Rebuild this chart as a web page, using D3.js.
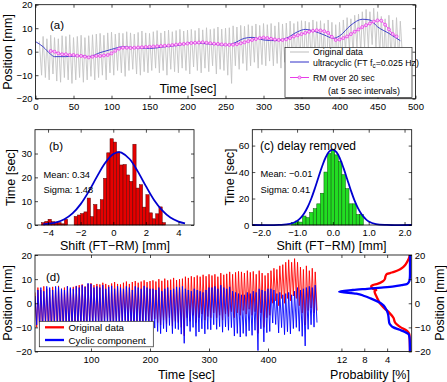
<!DOCTYPE html>
<html>
<head>
<meta charset="utf-8">
<script src="https://cdn.jsdelivr.net/npm/d3@7"></script>
<style>
  body { margin: 0; background: #fff; }
  svg { font-family: "Liberation Sans", Arial, Helvetica, sans-serif; }
  .tick text { font-size: 9.5px; fill: #000; }
  .tick line { stroke: #000; stroke-width: 0.7; }
</style>
</head>
<body>
<svg id="fig" width="447" height="382"></svg>
<script>
// ************************************
// Data
// ************************************

// breathing cycles: one peak / trough per cycle, first cycle at 5 s, every 5 s
const cycleStart = 5;
const cyclePeriod = 5;
const origPeaks = [
  4.5, 6.5, 5.5, 7, 6, 5.5, 6.8, 6.5, 7.2, 6,
  6.5, 7, 6, 6.8, 7.2, 7.5, 7.8, 7, 8, 8.3,
  7.5, 8, 7.8, 8.5, 8, 7.5, 8.2, 8.8, 8, 7.8,
  8.5, 9, 8, 8.8, 9.2, 8.5, 9, 9.5, 8.8, 9.2,
  9.5, 9, 10, 9.3, 10.2, 9.5, 9.8, 10.5, 9.6, 10,
  10.2, 11, 10.5, 11.2, 10.8, 11.5, 11, 11.8, 11.2, 12,
  11.5, 12, 11, 12.5, 11.8, 12.2, 13, 12, 12.8, 13.2,
  13, 12.5, 13.5, 12.8, 13.2, 12, 13.5, 12.5, 11.5, 12.5,
  13.5, 14.5, 14, 15.5, 16, 17, 18, 17, 18.5, 17,
  15, 14, 15.5, 13.5, 14.5, 13
];
const origTroughs = [
  -10, -11, -12, -9.5, -12.5, -13, -11, -12, -13.5, -12,
  -11, -13, -12, -10.5, -12, -11, -10, -12, -9, -10,
  -8, -9, -10.5, -8, -7.5, -9.5, -10, -8.5, -9, -8,
  -7, -9, -8, -10, -7.5, -8.5, -9, -7, -8, -9.5,
  -6.5, -8, -9, -7, -8.5, -6, -9.5, -7.5, -8, -10,
  -13.5, -6, -7.5, -5, -8, -6, -4.5, -7, -5.5, -6,
  -4, -6, -5, -7, -4.5, -5.5, -3.5, -6, -4, -5,
  -3, -4.5, -2.5, -5, -3.5, -12.5, -4, -10, -6, -5,
  0, 1, -1, 2, 0, 2, 1, 3, 2, -1,
  -4, -9, -3, -2, -4, -3
];
const cyclicPeaks = [
  3, 5.5, 6.5, 5, 7, 6.5, 5.5, 7, 6.8, 6,
  5.5, 7, 6.5, 6, 7, 6.5, 7.5, 6.8, 8.3, 8,
  6.5, 7, 6.5, 7.5, 6, 6.8, 7.2, 6, 7, 6.5,
  6, 7, 6.5, 5.5, 7, 6.5, 6, 7.2, 6.5, 6,
  6, 5.5, 6.5, 5, 6, 6.5, 5.5, 6, 6.8, 6.5,
  7, 6, 5.5, 5, 6, 5.5, 5, 4.5, 5.5, 6.5,
  6.5, 7, 6, 7.5, 6.5, 6, 6.8, 5, 4.5, 4,
  3.5, 3.5, 4.5, 4, 5, 4.5, 6, 5.5, 5, 6,
  6, 5.5, 4, 4.5, 3.5, 4, 4.5, 3.5, 5, 6.5,
  5.5, 6, 6.5, 7, 6.5, 7.5
];
const cyclicTroughs = [
  -9, -10, -11, -8.5, -10, -10.5, -9, -9.5, -11, -10,
  -9.2, -11.3, -10.1, -8.4, -10.5, -10, -9.6, -12.1, -9.5, -11,
  -9.4, -10.7, -12.6, -10, -9.3, -11.2, -11.6, -10, -10.5, -9.4,
  -8.6, -10.8, -9.9, -12.1, -9.8, -10.9, -11.6, -9.8, -11.1, -13,
  -10.3, -11.7, -12.6, -10.5, -11.9, -9.2, -12.6, -10.5, -10.9, -12.8,
  -16.6, -9.5, -11.7, -10, -13.7, -11.9, -10.6, -12.7, -10.8, -11,
  -8.9, -10.8, -9.7, -12, -9.8, -11.2, -10.1, -13.6, -12.5, -14,
  -12.5, -13.7, -11.4, -13.3, -11.2, -19.6, -10.6, -16, -12.2, -11.7,
  -8.2, -8.8, -12.3, -10.1, -13, -11.8, -12.7, -10.5, -10, -11.6,
  -13.7, -17.7, -10.8, -8.9, -9.9, -8
];

// ultracyclic component (FT low-pass)
const ultraTimes = [0, 10, 20, 25, 40, 60, 70, 85, 100, 115, 130, 150, 170, 190, 205, 220, 235, 250,
  260, 275, 285, 300, 315, 330, 345, 355, 365, 380, 392, 400, 415, 430, 440, 450, 465, 480];
const ultraValues = [4.3, 2.1, -1.1, -2.1, -2.1, -1.7, -2.1, -0.4, 1, 2.1, 1.7, 1.4, 2.1, 2.8, 3.8, 3.5, 3.1, 2.8,
  3.5, 5.7, 6.1, 5.0, 4.7, 5.7, 8.5, 9.5, 8.9, 7.1, 5.7, 6.7, 11.3, 13.8, 13.5, 10.6, 7.8, 4.7];

// running mean over 20 s, every 5 s from 20 s
const rmStart = 20;
const rmStep = 5;
const rmValues = [
  0.3, 0, -0.7, -1.1, -1.1, -1.4, -1.4, -1.7, -1.8, -2.1,
  -2.4, -2.1, -1.8, -1.8, -1.6, -1.4, -0.7, 0.4, 1.3, 1.7,
  1.7, 1.6, 1.7, 1.8, 1.9, 2.0, 2.1, 2.2, 2.3, 2.4,
  2.5, 2.6, 2.8, 3.0, 3.2, 3.3, 3.5, 3.7, 3.8, 3.9,
  4.0, 3.8, 3.6, 3.4, 3.3, 3.1, 3.0, 2.9, 3.0, 3.2,
  3.6, 4.0, 4.5, 5.0, 5.4, 5.8, 6.0, 5.8, 5.5, 5.2,
  5.0, 5.0, 5.3, 5.8, 6.5, 7.0, 7.5, 8.0, 8.5, 8.9,
  9.1, 9.0, 8.7, 8.0, 6.3, 5.0, 5.2, 5.8, 6.5, 7.5,
  8.5, 9.5, 10.5, 11.3, 12.0, 12.8, 13.3, 13.2, 11.5, 9.5,
  7.5, 6.5
];

// (b) histogram of shift FT-RM, bins of 0.2 mm
const shiftBinsB = [-4.3, -4.1, -3.9, -3.7, -3.5, -3.3, -3.1, -2.9, -2.7, -2.5, -2.3, -2.1, -1.9, -1.7, -1.5,
  -1.3, -1.1, -0.9, -0.7, -0.5, -0.3, -0.1, 0.1, 0.3, 0.5, 0.7, 0.9, 1.1, 1.3, 1.5, 1.7, 1.9, 2.1,
  2.3, 2.5, 2.7, 2.9, 3.1];
const timeB = [1.0, 1.5, 2.4, 1.4, 1.2, 1.0, 0.5, 2.4, 0, 0, 3.6, 4.2, 4.8, 5.5, 11.3,
  3.5, 8.6, 6.5, 10.6, 19.6, 30.3, 36.2, 34.8, 30.7, 25.2, 25.4, 21, 18.3, 33.9, 15.5, 16.9, 7.5, 12.7,
  5.1, 2.6, 4.7, 7.6, 1.0];
const fitXB = [-4.3, -3.5, -3, -2.5, -2, -1.5, -1, -0.5, 0, 0.34, 0.5, 1, 1.5, 2, 2.5, 3, 3.5, 4, 4.4];
const fitYB = [0.22, 1.06, 2.4, 4.86, 8.77, 14.1, 20.3, 26.0, 29.8, 30.6, 30.4, 27.7, 22.5, 16.3, 10.5, 6.1, 3.1, 1.44, 0.71];

// (c) histogram after delay removal, bins of 0.1 mm
const shiftBinsC = [-1.1, -1.0, -0.9, -0.8, -0.7, -0.6, -0.5, -0.4, -0.3, -0.2, -0.1, 0, 0.1, 0.2, 0.3, 0.4,
  0.5, 0.6, 0.7, 0.8];
const timeC = [1.8, 3, 2.2, 6.8, 5.6, 9.5, 12.3, 16, 24, 40, 54, 57, 53, 48, 38, 27.5, 16, 16, 8, 8];
const fitXC = [-2.25, -1.5, -1.2, -1.0, -0.9, -0.8, -0.7, -0.6, -0.5, -0.4, -0.3, -0.2, -0.1, 0, 0.1, 0.2,
  0.3, 0.4, 0.5, 0.6, 0.7, 0.8, 0.9, 1.0, 1.2, 1.5, 2.2];
const fitYC = [0, 0.08, 0.84, 3.1, 5.4, 8.9, 13.8, 20.2, 27.9, 36.3, 44.4, 51.2, 55.6, 57, 55, 50,
  42.8, 34.6, 26.3, 18.8, 12.7, 8.1, 4.9, 2.7, 0.74, 0.06, 0];

// (d) position probability distributions
const probPosOrig = [-20, -15, -13, -12, -11, -10, -9, -8, -6, -4, -2, 0, 1, 2, 3, 4, 5, 5.5, 6, 7, 7.5,
  8, 9, 10, 11, 12, 12.5, 13, 14, 15, 16, 18, 20];
const probOrig = [0, 0.05, 0.1, 0.3, 0.8, 1.6, 2.2, 2.6, 2.9, 3.6, 4.5, 5.3, 5.5, 5.7, 5.9, 6.1, 6.2, 5.9, 6.5,
  6.8, 6.5, 5.7, 4.8, 4.4, 4.3, 4.1, 3.5, 2.8, 1.8, 1.2, 0.8, 0.3, 0];
const probPosCyc = [-20, -15, -13, -12, -11, -10, -9, -8.3, -7, -5, -4, -2, -1, 0, 1, 2, 3, 4, 4.8, 5.5, 6,
  6.5, 7, 7.5, 8, 9, 10, 12, 20];
const probCyc = [0, 0.05, 0.2, 0.8, 1.8, 2.9, 3.4, 3.6, 3.7, 3.8, 3.9, 4.3, 4.6, 5.1, 5.9, 6.9, 8.0, 9.4, 12.4,
  10, 7.5, 5, 2.8, 1.5, 0.5, 0.15, 0.05, 0, 0];

// tick labels
const timeTicksA = [0, 50, 100, 150, 200, 250, 300, 350, 400, 450, 500];
const posTicks = [-20, -10, 0, 10, 20];
const shiftTicksB = [-4, -2, 0, 2, 4];
const timeTicksB = [0, 10, 20, 30];
const shiftTicksC = [-2, -1, 0, 1, 2];
const timeTicksC = [0, 20, 40, 60];
const timeTicksD = [100, 200, 300, 400];
const probTicks = [12, 8, 4];

// ************************************
// helpers
// ************************************
const svg = d3.select("#fig");
const defs = svg.append("defs");

function clip(id, x0, y0, x1, y1) {
  defs.append("clipPath").attr("id", id)
    .append("rect").attr("x", x0).attr("y", y0).attr("width", x1 - x0).attr("height", y1 - y0);
  return "url(#" + id + ")";
}

function frame(x0, y0, x1, y1) {
  svg.append("rect")
    .attr("x", x0).attr("y", y0).attr("width", x1 - x0).attr("height", y1 - y0)
    .attr("fill", "none").attr("stroke", "#000").attr("stroke-width", 0.8);
}

// MATLAB style box: inward ticks on all four sides
function boxAxes(x, y, xt, yt) {
  const [x0, x1] = x.range();
  const [y0, y1] = y.range();
  svg.append("g").attr("transform", `translate(0,${y0})`)
    .call(d3.axisBottom(x).tickValues(xt).tickSize(-3).tickPadding(4.5));
  svg.append("g").attr("transform", `translate(0,${y1})`)
    .call(d3.axisTop(x).tickValues(xt).tickSize(-3).tickFormat(""));
  svg.append("g").attr("transform", `translate(${x0},0)`)
    .call(d3.axisLeft(y).tickValues(yt).tickSize(-3).tickPadding(3));
  svg.append("g").attr("transform", `translate(${x1},0)`)
    .call(d3.axisRight(y).tickValues(yt).tickSize(-3).tickFormat(""));
  svg.selectAll(".domain").remove();
  frame(x0, y1, x1, y0);
}

function label(txt, x, y, size, anchor, rotate) {
  const t = svg.append("text")
    .attr("font-size", size)
    .attr("text-anchor", anchor || "start")
    .text(txt);
  if (rotate) t.attr("transform", `translate(${x},${y}) rotate(${rotate})`);
  else t.attr("x", x).attr("y", y);
  return t;
}

function cyclePoints(peaks, troughs) {
  const pts = [];
  peaks.forEach((p, i) => {
    const t = cycleStart + i * cyclePeriod;
    pts.push([t, p]);
    pts.push([t + 3, troughs[i]]);
  });
  return pts;
}

// ************************************
// (a) position vs time
// ************************************
const xA = d3.scaleLinear().domain([0, 500]).range([35.5, 415.5]);
const yA = d3.scaleLinear().domain([-20, 20]).range([98.7, 4.7]);
const clipA = clip("clipA", 35.5, 4.7, 415.5, 98.7);

const lineA = d3.line().x(d => xA(d[0])).y(d => yA(d[1]));

svg.append("path")
  .attr("clip-path", clipA)
  .attr("d", lineA(cyclePoints(origPeaks, origTroughs)))
  .attr("fill", "none").attr("stroke", "#c4c4c4").attr("stroke-width", 0.9);

svg.append("path")
  .attr("clip-path", clipA)
  .attr("d", d3.line().curve(d3.curveMonotoneX).x(d => xA(d[0])).y(d => yA(d[1]))(ultraTimes.map((t, i) => [t, ultraValues[i]])))
  .attr("fill", "none").attr("stroke", "#3030c8").attr("stroke-width", 0.9);

const rmData = rmValues.map((v, i) => [rmStart + i * rmStep, v]);
svg.append("path")
  .attr("d", lineA(rmData))
  .attr("fill", "none").attr("stroke", "#e83ce8").attr("stroke-width", 0.9);
svg.append("g").selectAll("circle").data(rmData).enter().append("circle")
  .attr("cx", d => xA(d[0])).attr("cy", d => yA(d[1])).attr("r", 1.5)
  .attr("fill", "#f6c6f6").attr("stroke", "#e83ce8").attr("stroke-width", 0.8);

boxAxes(xA, yA, timeTicksA, posTicks);
label("(a)", 50, 29, 11.5);
label("Time [sec]", 188, 92.5, 12.5, "middle");
label("Position [mm]", 12, 52, 12.5, "middle", -90);

// legend (a)
const legA = svg.append("g");
legA.append("rect").attr("x", 285).attr("y", 47.5).attr("width", 127).attr("height", 50)
  .attr("fill", "#fff").attr("stroke", "#222").attr("stroke-width", 0.7);
legA.append("line").attr("x1", 290).attr("x2", 309).attr("y1", 52).attr("y2", 52)
  .attr("stroke", "#bdbdbd").attr("stroke-width", 1);
legA.append("text").attr("x", 313).attr("y", 55.3).attr("font-size", 8.8).text("Original data");
legA.append("line").attr("x1", 290).attr("x2", 309).attr("y1", 62).attr("y2", 62)
  .attr("stroke", "#3030c8").attr("stroke-width", 1);
const ultraText = legA.append("text").attr("x", 313).attr("y", 65.5).attr("font-size", 8.8);
ultraText.append("tspan").text("ultracyclic (FT f");
ultraText.append("tspan").attr("font-size", 6.3).attr("dy", 2).text("c");
ultraText.append("tspan").attr("dy", -2).text("=0.025 Hz)");
legA.append("line").attr("x1", 290).attr("x2", 309).attr("y1", 77.5).attr("y2", 77.5)
  .attr("stroke", "#e83ce8").attr("stroke-width", 1);
legA.append("circle").attr("cx", 299.5).attr("cy", 77.5).attr("r", 1.5)
  .attr("fill", "#f6c6f6").attr("stroke", "#e83ce8").attr("stroke-width", 0.8);
legA.append("text").attr("x", 313).attr("y", 81).attr("font-size", 8.8).text("RM over 20 sec");
legA.append("text").attr("x", 328).attr("y", 93.5).attr("font-size", 8.8).text("(at 5 sec intervals)");

// ************************************
// (b) histogram FT-RM
// ************************************
const xB = d3.scaleLinear().domain([-4.8, 4.95]).range([35, 194]);
const yB = d3.scaleLinear().domain([0, 40]).range([225, 129.7]);

svg.append("g").selectAll("rect").data(shiftBinsB).enter().append("rect")
  .attr("x", d => xB(d - 0.1)).attr("width", d => xB(d + 0.1) - xB(d - 0.1))
  .attr("y", (d, i) => yB(timeB[i])).attr("height", (d, i) => yB(0) - yB(timeB[i]))
  .attr("fill", "#e60000").attr("stroke", "#5a0000").attr("stroke-width", 0.5);

svg.append("path")
  .attr("d", d3.line().curve(d3.curveCatmullRom).x(d => xB(d[0])).y(d => yB(d[1]))(fitXB.map((v, i) => [v, fitYB[i]])))
  .attr("fill", "none").attr("stroke", "#0000d0").attr("stroke-width", 1.8);

boxAxes(xB, yB, shiftTicksB, timeTicksB);
label("(b)", 49, 149.5, 11.5);
label("Mean:  0.34", 43.5, 177.5, 9.3);
label("Sigma: 1.48", 43.5, 192.5, 9.3);
label("Shift (FT\u2212RM) [mm]", 115, 249.5, 12.5, "middle");
label("Time [sec]", 14.5, 177.5, 12.5, "middle", -90);

// ************************************
// (c) histogram after delay removal
// ************************************
const xC = d3.scaleLinear().domain([-2.25, 2.2]).range([252.3, 411.7]);
const yC = d3.scaleLinear().domain([0, 72]).range([225, 129.7]);

svg.append("g").selectAll("rect").data(shiftBinsC).enter().append("rect")
  .attr("x", d => xC(d - 0.05)).attr("width", d => xC(d + 0.05) - xC(d - 0.05))
  .attr("y", (d, i) => yC(timeC[i])).attr("height", (d, i) => yC(0) - yC(timeC[i]))
  .attr("fill", "#22dd22").attr("stroke", "#0a5a0a").attr("stroke-width", 0.5);

svg.append("path")
  .attr("d", d3.line().curve(d3.curveCatmullRom).x(d => xC(d[0])).y(d => yC(d[1]))(fitXC.map((v, i) => [v, fitYC[i]])))
  .attr("fill", "none").attr("stroke", "#0000d0").attr("stroke-width", 1.8);

boxAxes(xC, yC, shiftTicksC, timeTicksC);
label("(c)  delay removed", 260, 149.5, 12);
label("Mean:  \u22120.01", 260.5, 177, 9.3);
label("Sigma: 0.41", 260.5, 192.5, 9.3);
label("Shift (FT\u2212RM) [mm]", 331.5, 249.5, 12.5, "middle");
label("Time [sec]", 233.5, 177, 12.5, "middle", -90);

// ************************************
// (d) original vs cyclic component, with distributions
// ************************************
const xD = d3.scaleLinear().domain([5.1, 491.5]).range([35, 322]);
const yD = d3.scaleLinear().domain([-20, 20]).range([351.5, 255]);
const xP = d3.scaleLinear().domain([15.4, -0.3]).range([322, 411.7]);
const clipD = clip("clipD", 35, 255, 322, 351.5);
const clipP = clip("clipP", 322, 255, 411.7, 351.5);

const lineD = d3.line().x(d => xD(d[0])).y(d => yD(d[1]));
svg.append("path")
  .attr("clip-path", clipD)
  .attr("d", lineD(cyclePoints(origPeaks, origTroughs)))
  .attr("fill", "none").attr("stroke", "#ff0000").attr("stroke-width", 0.9);
svg.append("path")
  .attr("clip-path", clipD)
  .attr("d", lineD(cyclePoints(cyclicPeaks, cyclicTroughs)))
  .attr("fill", "none").attr("stroke", "#0000ff").attr("stroke-width", 0.9);

const lineP = d3.line().curve(d3.curveMonotoneY).x(d => xP(d[1])).y(d => yD(d[0]));
svg.append("path")
  .attr("clip-path", clipP)
  .attr("d", lineP(probPosOrig.map((p, i) => [p, probOrig[i]])))
  .attr("fill", "none").attr("stroke", "#ff0000").attr("stroke-width", 2.3);
svg.append("path")
  .attr("clip-path", clipP)
  .attr("d", lineP(probPosCyc.map((p, i) => [p, probCyc[i]])))
  .attr("fill", "none").attr("stroke", "#0000ff").attr("stroke-width", 2.3);

// axes of (d)
svg.append("g").attr("transform", "translate(0,351.5)")
  .call(d3.axisBottom(xD).tickValues(timeTicksD).tickSize(-3).tickPadding(4.5));
svg.append("g").attr("transform", "translate(0,255)")
  .call(d3.axisTop(xD).tickValues(timeTicksD).tickSize(-3).tickFormat(""));
svg.append("g").attr("transform", "translate(0,351.5)")
  .call(d3.axisBottom(xP).tickValues(probTicks).tickSize(-3).tickPadding(4.5));
svg.append("g").attr("transform", "translate(0,255)")
  .call(d3.axisTop(xP).tickValues(probTicks).tickSize(-3).tickFormat(""));
svg.append("g").attr("transform", "translate(35,0)")
  .call(d3.axisLeft(yD).tickValues(posTicks).tickSize(-3).tickPadding(3));
svg.append("g").attr("transform", "translate(411.7,0)")
  .call(d3.axisRight(yD).tickValues(posTicks).tickSize(-3).tickPadding(3));
svg.selectAll(".domain").remove();
frame(35, 255, 411.7, 351.5);

label("(d)", 46, 281, 11.5);
label("Time [sec]", 186.5, 378.5, 12.5, "middle");
label("Probability [%]", 370, 379, 12.5, "middle");
label("Position [mm]", 12, 303, 12.5, "middle", -90);
label("Position [mm]", 443.5, 303, 12.5, "middle", -90);

// legend (d)
const legD = svg.append("g");
legD.append("rect").attr("x", 39.3).attr("y", 321.3).attr("width", 114).attr("height", 25.5)
  .attr("fill", "#fff").attr("stroke", "#222").attr("stroke-width", 0.7);
legD.append("line").attr("x1", 45).attr("x2", 64).attr("y1", 327.3).attr("y2", 327.3)
  .attr("stroke", "#ff0000").attr("stroke-width", 2.3);
legD.append("text").attr("x", 68.5).attr("y", 330.7).attr("font-size", 9.8).text("Original data");
legD.append("line").attr("x1", 45).attr("x2", 64).attr("y1", 340).attr("y2", 340)
  .attr("stroke", "#0000ff").attr("stroke-width", 2.3);
legD.append("text").attr("x", 68.5).attr("y", 343.5).attr("font-size", 9.8).text("Cyclic component");
</script>
</body>
</html>
